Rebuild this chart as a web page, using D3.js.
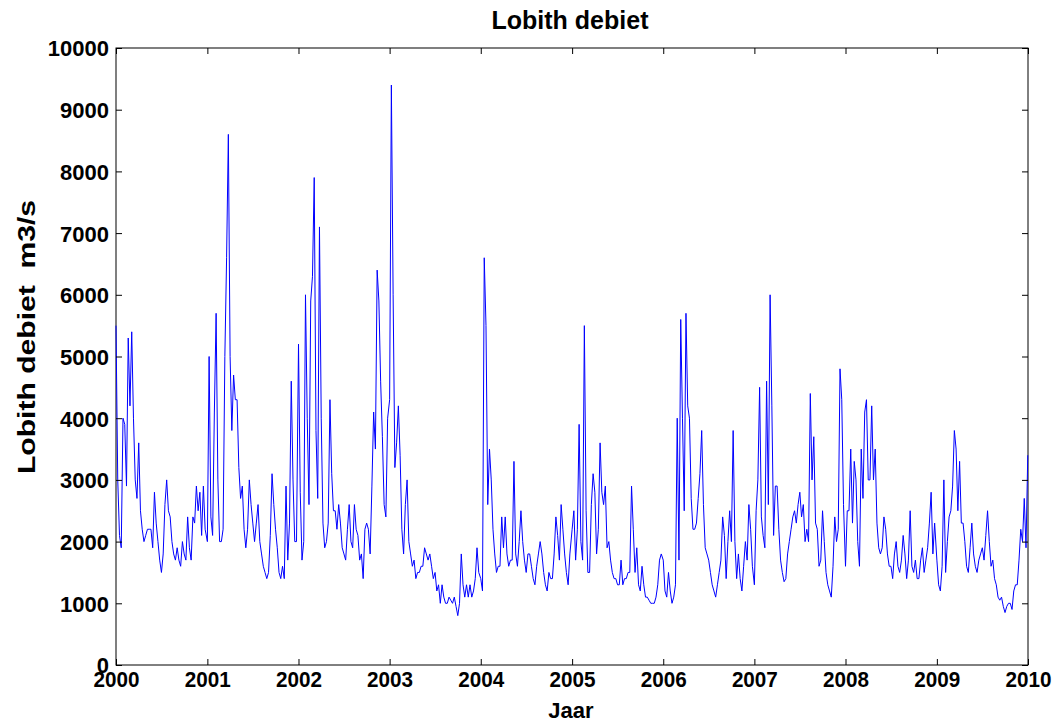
<!DOCTYPE html>
<html><head><meta charset="utf-8">
<script src="https://cdn.jsdelivr.net/npm/d3@7"></script>
<style>
html,body{margin:0;padding:0;background:#fff;}
text{font-family:"Liberation Sans",Arial,sans-serif;font-weight:bold;fill:#000;}
</style></head>
<body><svg id="chart" width="1062" height="724"></svg>
<script>
// Weekly readings (m3/s), one array per year, starting Jan 1, step 7 days
const q2000 = [5500,3000,2100,1900,4000,3900,2900,5300,4200,5400,4000,3000,2700,3600,2500,2200,2000,2100,2200,2200,2200,1900,2800,2300,2000,1700,1500,1800,2600,3000,2500,2400,2000,1800,1700,1900,1700,1600,2000,1800,1700,2400,1900,1700,2400,2300,2900,2500,2800,2100,2900,2200];
const q2001 = [2000,5000,2400,2100,4100,5700,3000,2000,2000,2200,5000,6600,8600,5000,3800,4700,4300,4300,3200,2700,2900,2200,1900,2200,3000,2600,2300,2000,2300,2600,2000,1800,1600,1500,1400,1500,2100,3100,2600,2200,1900,1500,1400,1600,1400,2900,1700,2300,4600,3000,2000,2000];
const q2002 = [5200,2800,1700,2000,6000,4000,2600,5900,6300,7900,3800,2700,7100,4000,2300,1900,2000,2300,4300,3100,2500,2500,2200,2600,2300,1900,1800,1700,2200,2600,2000,1900,2600,2200,2100,1700,1800,1400,2200,2300,2200,1800,2900,4100,3500,6400,5900,4600,3700,2600,2400,4000];
const q2003 = [4300,9400,6000,3200,3600,4200,3400,2200,1800,2600,3000,2000,1800,1600,1700,1400,1500,1500,1600,1600,1900,1800,1700,1800,1600,1400,1500,1200,1300,1000,1300,1100,1000,1000,1100,1050,1000,1100,950,800,1000,1800,1300,1100,1300,1100,1300,1100,1200,1400,1900,1500];
const q2004 = [1400,1200,6600,5500,2600,3500,3000,2200,1800,1500,1600,1600,2400,1900,2400,1800,1600,1700,1700,3300,1800,1600,2000,2500,2000,1700,1500,1800,1800,1600,1400,1300,1600,1800,2000,1800,1500,1300,1200,1500,1400,1400,1800,2400,2100,1700,2600,2200,1800,1500,1300,1800];
const q2005 = [2200,2500,1700,2200,3900,2000,1700,5500,2500,1500,1500,2600,3100,2800,1800,2200,3600,2800,2600,2900,1900,2000,1700,1500,1400,1400,1300,1300,1700,1300,1400,1400,1500,1500,2900,2200,1500,1900,1300,1200,1600,1300,1100,1100,1050,1000,1000,1000,1100,1300,1700,1800];
const q2006 = [1700,1200,1100,1500,1200,1000,1100,1300,4000,1700,5600,4000,2500,5700,4200,4000,2700,2200,2200,2300,2700,3100,3800,2600,1900,1800,1700,1500,1300,1200,1100,1300,1500,1700,2400,2100,1400,2000,2500,2000,3800,2000,1400,1800,1400,1200,1600,2000,1700,2600,2200,1600];
const q2007 = [1300,2500,3000,4500,2400,2100,1900,4600,2600,6000,4200,2100,2900,2900,2200,1700,1500,1350,1400,1800,2000,2200,2400,2500,2300,2600,2800,2400,2600,2000,2200,2000,4400,3000,3700,2300,2200,1600,1700,2500,2000,1500,1300,1200,1100,1600,2400,2000,2200,4800,4300,2600];
const q2008 = [1600,2500,2500,3500,2300,3300,3000,2000,1600,3500,2700,4100,4300,3000,3000,4200,3000,3500,2300,1900,1800,1900,2400,2200,1800,1600,1600,1400,1800,2000,1600,1500,1700,2100,1800,1400,1700,2500,1600,1500,1700,1400,1400,1700,1900,1500,1700,1900,2300,2800,1800,2300];
const q2009 = [1700,1300,1200,1600,3000,1500,2000,2400,2500,2900,3800,3500,2500,3300,2300,2300,2000,1600,1500,1900,2300,1800,1600,1500,1700,1800,1900,1700,2100,2500,2000,1600,1700,1400,1300,1100,1050,1100,950,850,950,1000,1000,900,1200,1300,1300,1700,2200,2000,2700,1900,3400];
const years = [2000,2001,2002,2003,2004,2005,2006,2007,2008,2009];
const yearSeries = [q2000,q2001,q2002,q2003,q2004,q2005,q2006,q2007,q2008,q2009];
const yTicks = [0,1000,2000,3000,4000,5000,6000,7000,8000,9000,10000];
const xTickYears = [2000,2001,2002,2003,2004,2005,2006,2007,2008,2009,2010];
const titleText = "Lobith debiet";
const xLabel = "Jaar";
const yLabel = "Lobith debiet  m3/s";

const data = [];
years.forEach((yr, k) => {
  yearSeries[k].forEach((v, i) => {
    data.push({date: d3.timeDay.offset(new Date(yr, 0, 1), 7 * i), value: v});
  });
});

const svg = d3.select("#chart");
const L = 116, R = 1028, T = 48, B = 665;
const x = d3.scaleTime().domain([new Date(2000,0,1), new Date(2010,0,1)]).range([L, R]);
const y = d3.scaleLinear().domain([0, 10000]).range([B, T]);
const tickDates = xTickYears.map(yr => new Date(yr, 0, 1));

// box
svg.append("rect").attr("x", L).attr("y", T).attr("width", R - L).attr("height", B - T)
  .attr("fill", "none").attr("stroke", "#000").attr("stroke-width", 1);

// line
svg.append("path").datum(data)
  .attr("fill", "none").attr("stroke", "#0000ff").attr("stroke-width", 1)
  .attr("d", d3.line().x(d => x(d.date)).y(d => y(d.value)));

// axes
const xAxis = svg.append("g").attr("transform", `translate(0,${B})`)
  .call(d3.axisBottom(x).tickValues(tickDates).tickFormat(d3.timeFormat("%Y")).tickSizeInner(-6).tickSizeOuter(0).tickPadding(6));
const xTop = svg.append("g").attr("transform", `translate(0,${T})`)
  .call(d3.axisTop(x).tickValues(tickDates).tickFormat("").tickSizeInner(-6).tickSizeOuter(0));
const yAxis = svg.append("g").attr("transform", `translate(${L},0)`)
  .call(d3.axisLeft(y).tickValues(yTicks).tickFormat(d3.format("d")).tickSizeInner(-6).tickSizeOuter(0).tickPadding(7));
const yRight = svg.append("g").attr("transform", `translate(${R},0)`)
  .call(d3.axisRight(y).tickValues(yTicks).tickFormat("").tickSizeInner(-6).tickSizeOuter(0));
[xAxis, xTop, yAxis, yRight].forEach(g => {
  g.select(".domain").remove();
  g.selectAll("line").attr("stroke", "#000");
});
xAxis.selectAll("text").attr("font-size", 22).attr("fill", "#000")
  .attr("textLength", 46).attr("lengthAdjust", "spacingAndGlyphs");
yAxis.selectAll("text").attr("font-size", 22).attr("fill", "#000").attr("dy", "0.36em");

svg.append("text").attr("x", 570).attr("y", 29).attr("text-anchor", "middle")
  .attr("font-size", 25).text(titleText);
svg.append("text").attr("x", 571).attr("y", 718).attr("text-anchor", "middle")
  .attr("font-size", 22).text(xLabel);
svg.append("text").attr("transform", "translate(35,337) rotate(-90)").attr("text-anchor", "middle")
  .style("white-space", "pre").attr("xml:space", "preserve")
  .attr("font-size", 24).attr("textLength", 274).attr("lengthAdjust", "spacingAndGlyphs")
  .text(yLabel);
</script></body></html>
